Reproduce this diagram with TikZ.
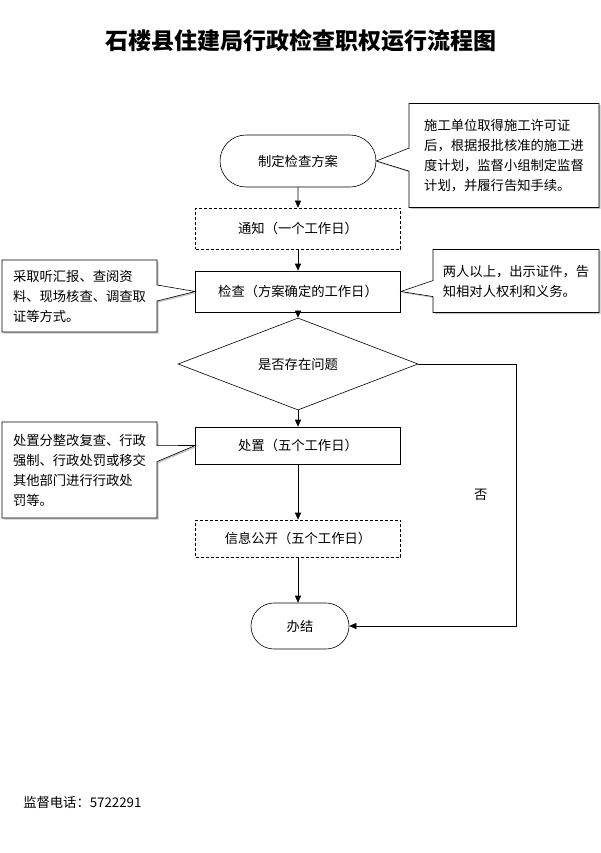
\documentclass[tikz,border=0pt]{standalone}
\usepackage{fontspec}
\setmainfont{Noto Sans CJK SC}
\usetikzlibrary{shapes.geometric,shapes.misc,shapes.callouts,shadows,arrows.meta}
\begin{document}
\begin{tikzpicture}[x=1pt, y=-1pt, line width=0.6pt, font=\fontsize{13.3}{20}\selectfont,
				term/.style = {draw, rounded rectangle, inner sep=0pt, minimum width=156pt, minimum height=52pt},
				box/.style = {draw, rectangle, inner sep=0pt, minimum width=205pt, minimum height=41pt},
				dbox/.style = {box, dash pattern=on 3pt off 2pt},
				ask/.style = {draw, diamond, inner sep=0pt, minimum width=240pt, minimum height=62pt},
				note/.style = {draw, fill=white, rectangle callout, align=left, inner sep=0pt,
					callout pointer width=16pt, drop shadow={shadow xshift=1.5pt, shadow yshift=-1.5pt, fill=black!45}},
				arr/.style = {-{Triangle[length=7pt,width=6pt]}}]
				
				\useasboundingbox (0,0) rectangle (601,853);
				
				\node (title) at (301,41) {\fontsize{23}{28}\selectfont\bfseries 石楼县住建局行政检查职权运行流程图};
				
				\node[term] (1) at (298,161) {制定检查方案};
				\node[dbox] (2) at (298,228.5) {通知（一个工作日）};
				\node[box] (3) at (298,291.5) {检查（方案确定的工作日）};
				\node[ask] (4) at (298,364) {是否存在问题};
				\node[box, minimum height=37pt] (5) at (298,445.5) {处置（五个工作日）};
				\node[dbox, minimum height=37pt] (6) at (298,538.5) {信息公开（五个工作日）};
				\node[term, minimum width=98pt, minimum height=46pt] (7) at (300,626) {办结};
				
				\draw[arr] (1) -- (2);
				\draw[arr] (2) -- (3);
				\draw[arr] (3) -- (4);
				\draw[arr] (4) -- (5);
				\draw[arr] (5) -- (6);
				\draw[arr] (6) -- (6 |- 7.north);
				\draw[arr] (4.east) -- (516,364) |- node[pos=0.25, left=25pt] (no) {否} (7.east);
				
				\node[note, minimum width=190pt, minimum height=104pt, callout pointer width=23pt,
					callout absolute pointer={(1.east)}] (n1) at (504,155.5)
					{施工单位取得施工许可证\\后，根据报批核准的施工进\\度计划，监督小组制定监督\\计划，并履行告知手续。};
				\node[note, minimum width=166pt, minimum height=63pt,
					callout absolute pointer={(3.east)}] (n2) at (516,281)
					{两人以上，出示证件，告\\知相对人权利和义务。};
				\node[note, minimum width=155pt, minimum height=72pt,
					callout absolute pointer={(3.west)}] (n3) at (79.5,296)
					{采取听汇报、查阅资\\料、现场核查、调查取\\证等方式。};
				\node[note, minimum width=155pt, minimum height=96pt,
					callout absolute pointer={(5.west)}] (n4) at (79.5,470)
					{处置分整改复查、行政\\强制、行政处罚或移交\\其他部门进行行政处\\罚等。};
				
				\node[anchor=west, inner sep=0pt] (tel) at (23,802) {监督电话：5722291};
			\end{tikzpicture}
\end{document}
